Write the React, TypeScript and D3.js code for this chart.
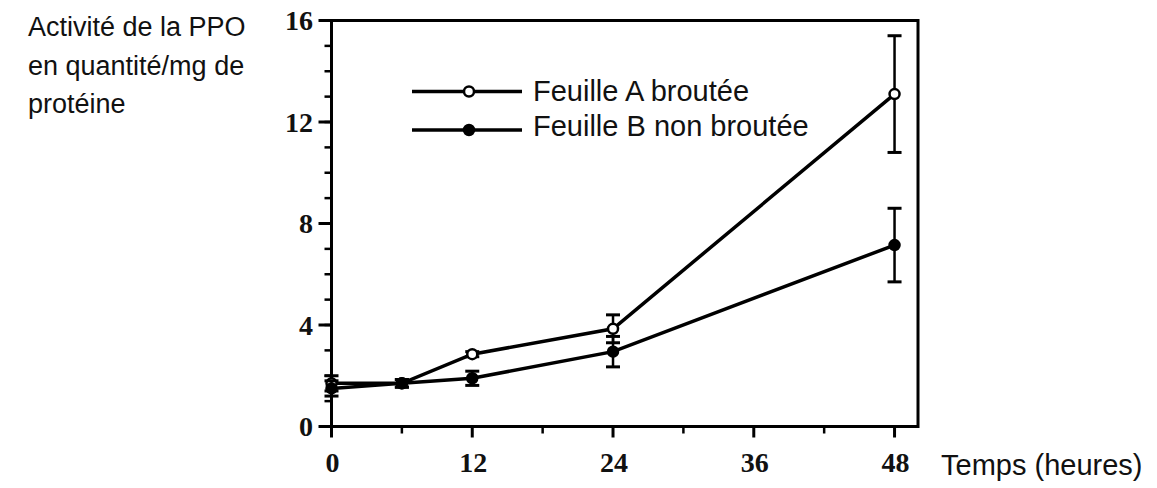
import React from "react";
import * as d3 from "d3";

// measured hours
const hours = [0, 6, 12, 24, 48];
// Feuille A broutée (open circles)
const grazedValues = [1.7, 1.7, 2.85, 3.85, 13.1];
const grazedErrors = [0.3, 0.15, 0.1, 0.55, 2.3];
// Feuille B non broutée (filled circles)
const ungrazedValues = [1.5, 1.7, 1.9, 2.95, 7.15];
const ungrazedErrors = [0.3, 0.15, 0.28, 0.6, 1.45];

const xTicks = [0, 12, 24, 36, 48];
const xMinorTicks = [6, 18, 30, 42];
const yTicks = [0, 4, 8, 12, 16];
const yMinorTicks = d3.range(0, 17);

const legendLabels = ["Feuille A broutée", "Feuille B non broutée"];
const yTitleLines = ["Activité de la PPO", "en quantité/mg de", "protéine"];
const xTitle = "Temps (heures)";

const W = 1157;
const H = 488;
const PLOT = { left: 331.5, right: 918, top: 20.5, bottom: 426.5 };

const SERIF = "'Liberation Serif', 'DejaVu Serif', serif";
const SANS = "'Liberation Sans', Arial, sans-serif";

export default function App() {
  const x = d3.scaleLinear().domain([0, 50]).range([PLOT.left, PLOT.right]);
  const y = d3.scaleLinear().domain([0, 16]).range([PLOT.bottom, PLOT.top]);

  const line = d3
    .line<number>()
    .x((_, i) => x(hours[i]))
    .y((d) => y(d));

  const series = [
    { values: grazedValues, errors: grazedErrors, fill: "#fff" },
    { values: ungrazedValues, errors: ungrazedErrors, fill: "#000" },
  ];

  return (
    <svg
      width={W}
      height={H}
      style={{ position: "absolute", left: 0, top: 0, background: "#fff" }}
    >
      {/* y title */}
      {yTitleLines.map((t, i) => (
        <text key={t} x={28} y={36 + i * 38.5} fontFamily={SANS} fontSize={27} fill="#111">
          {t}
        </text>
      ))}

      {/* frame */}
      <rect
        x={PLOT.left}
        y={PLOT.top}
        width={PLOT.right - PLOT.left}
        height={PLOT.bottom - PLOT.top}
        fill="none"
        stroke="#000"
        strokeWidth={3}
      />

      {/* y ticks */}
      {yMinorTicks.map((t) => (
        <line key={"ym" + t} x1={PLOT.left} x2={PLOT.left - 7} y1={y(t)} y2={y(t)} stroke="#000" strokeWidth={2.5} />
      ))}
      {yTicks.map((t) => (
        <g key={"y" + t}>
          <line x1={PLOT.left} x2={PLOT.left - 13} y1={y(t)} y2={y(t)} stroke="#000" strokeWidth={3} />
          <text
            x={313}
            y={y(t)}
            dy="0.35em"
            textAnchor="end"
            fontFamily={SERIF}
            fontWeight="bold"
            fontSize={28}
            fill="#111"
          >
            {t}
          </text>
        </g>
      ))}

      {/* x ticks */}
      {xMinorTicks.map((t) => (
        <line key={"xm" + t} x1={x(t)} x2={x(t)} y1={PLOT.bottom} y2={PLOT.bottom + 7} stroke="#000" strokeWidth={2.5} />
      ))}
      {xTicks.map((t) => (
        <g key={"x" + t}>
          <line x1={x(t)} x2={x(t)} y1={PLOT.bottom} y2={PLOT.bottom + 11} stroke="#000" strokeWidth={3} />
          <text
            x={x(t) + 1}
            y={472}
            textAnchor="middle"
            fontFamily={SERIF}
            fontWeight="bold"
            fontSize={28}
            fill="#111"
          >
            {t}
          </text>
        </g>
      ))}

      <text x={941} y={475} fontFamily={SANS} fontSize={29} fill="#111">
        {xTitle}
      </text>

      {/* series */}
      {series.map((s, si) => (
        <g key={si}>
          <path d={line(s.values) ?? ""} fill="none" stroke="#000" strokeWidth={3.5} />
          {s.values.map((v, i) => {
            const cx = x(hours[i]);
            const top = y(v + s.errors[i]);
            const bot = y(v - s.errors[i]);
            return (
              <g key={i}>
                <line x1={cx} x2={cx} y1={top} y2={bot} stroke="#000" strokeWidth={2.5} />
                <line x1={cx - 7} x2={cx + 7} y1={top} y2={top} stroke="#000" strokeWidth={3} />
                <line x1={cx - 7} x2={cx + 7} y1={bot} y2={bot} stroke="#000" strokeWidth={3} />
              </g>
            );
          })}
          {s.values.map((v, i) => (
            <circle key={"c" + i} cx={x(hours[i])} cy={y(v)} r={5} fill={s.fill} stroke="#000" strokeWidth={2.5} />
          ))}
        </g>
      ))}

      {/* legend */}
      {legendLabels.map((label, i) => {
        const ly = i === 0 ? 91.5 : 130;
        return (
          <g key={label}>
            <line x1={412} x2={522} y1={ly} y2={ly} stroke="#000" strokeWidth={3.5} />
            <circle cx={469} cy={ly} r={5} fill={series[i].fill} stroke="#000" strokeWidth={2.5} />
            <text x={533} y={i === 0 ? 101 : 136} fontFamily={SANS} fontSize={29} fill="#111">
              {label}
            </text>
          </g>
        );
      })}
    </svg>
  );
}
